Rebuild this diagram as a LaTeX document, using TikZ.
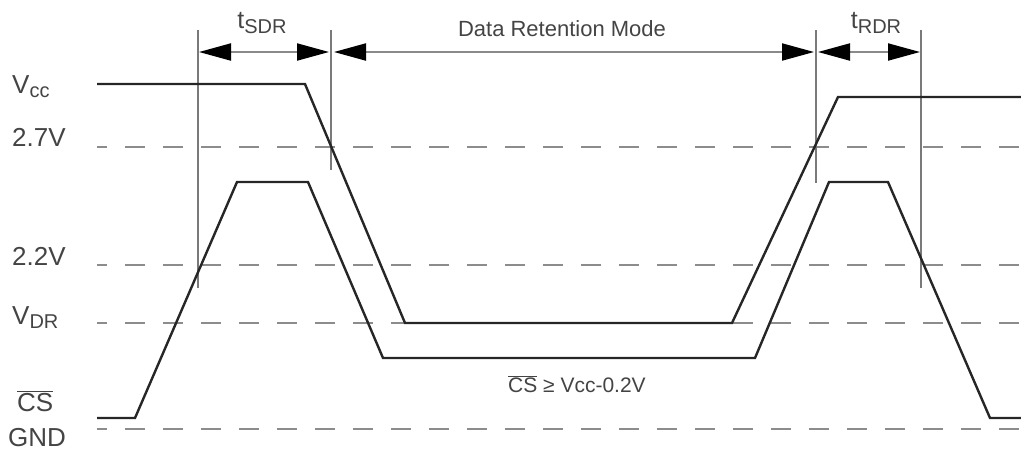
\documentclass[tikz,border=0pt]{standalone}
\usepackage{fontspec}
\setmainfont{Liberation Sans}
\usetikzlibrary{arrows.meta}
\definecolor{wave}{HTML}{262626}
\definecolor{dashc}{HTML}{8C8C8C}
\definecolor{vline}{HTML}{7A7A7A}
\definecolor{txt}{HTML}{444444}
\definecolor{shaft}{HTML}{8A8A8A}
\newcommand{\mysub}[1]{\raisebox{-0.35ex}{\fontsize{20}{20}\selectfont #1}}
\newcommand{\myover}[1]{$\overline{\mbox{#1}}$}
\begin{document}
\begin{tikzpicture}[x=1pt,y=-1pt,
  wavel/.style={draw=wave,line width=2.4pt,line join=miter},
  level/.style={draw=dashc,line width=2pt,dash pattern=on 20pt off 18pt,dash phase=10pt},
  mark line/.style={draw=vline,line width=1.4pt},
  dim/.style={draw=shaft,line width=2pt,{Triangle[length=32pt,width=17pt,fill=black,color=black]}-{Triangle[length=32pt,width=17pt,fill=black,color=black]}},
  lbl/.style={text=txt,font=\fontsize{26}{26}\selectfont,inner sep=0pt,anchor=base west},
  top/.style={text=txt,font=\fontsize{25}{25}\selectfont,inner sep=0pt}]
\useasboundingbox (0,0) rectangle (1021,451);
% threshold levels
\draw[level] (97,147) -- (1021,147);
\draw[level] (97,265) -- (1021,265);
\draw[level] (97,323) -- (1021,323);
\draw[level] (97,429) -- (1021,429);
% timing marker lines
\coordinate (m1t) at (198,30); \coordinate (m1b) at (198,288);
\coordinate (m2t) at (331,30); \coordinate (m2b) at (331,170);
\coordinate (m3t) at (816,30); \coordinate (m3b) at (816,183);
\coordinate (m4t) at (921,30); \coordinate (m4b) at (921,288);
\draw[mark line] (m1t) -- (m1b);
\draw[mark line] (m2t) -- (m2b);
\draw[mark line] (m3t) -- (m3b);
\draw[mark line] (m4t) -- (m4b);
% dimension arrows
\coordinate (a1) at (199,52); \coordinate (a2) at (329,52);
\coordinate (a3) at (334,52); \coordinate (a4) at (814,52);
\coordinate (a5) at (818,52); \coordinate (a6) at (920,52);
\draw[dim] (a1) -- (a2);
\draw[dim] (a3) -- (a4);
\draw[dim] (a5) -- (a6);
% waveforms
\draw[wavel] (97,84) -- (305,84) -- (405,323) -- (732,323) -- (838,97) -- (1021,97);
\draw[wavel] (97,418) -- (135,418) -- (237,182) -- (308,182) -- (383,358) -- (755,358) -- (829,182) -- (888,182) -- (990,418) -- (1021,418);
% top labels
\node[top] (tsdr) at (262,23) {t\mysub{SDR}};
\node[top,font=\fontsize{22}{22}\selectfont] (drm) at (562,29) {Data Retention Mode};
\node[top] (trdr) at (876,23) {t\mysub{RDR}};
% left labels
\node[lbl] (vcc) at (12,93) {V\mysub{cc}};
\node[lbl] (l27) at (12,146) {2.7V};
\node[lbl] (l22) at (12,265) {2.2V};
\node[lbl] (vdr) at (12,324) {V\mysub{DR}};
\node[lbl] (cs) at (17,411) {\myover{CS}};
\node[lbl] (gnd) at (8,446) {GND};
\node[lbl,font=\fontsize{21}{21}\selectfont] (cond) at (508,392) {\myover{CS} ≥ Vcc-0.2V};
\end{tikzpicture}
\end{document}
